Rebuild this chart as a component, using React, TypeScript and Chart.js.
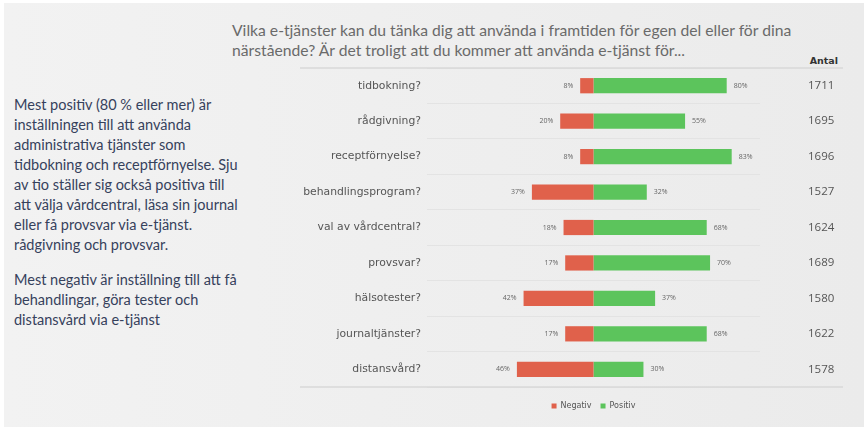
import React, { useEffect, useRef } from "react";
import { Chart, registerables } from "chart.js";

Chart.register(...registerables);

const categories = [
  "tidbokning?",
  "rådgivning?",
  "receptförnyelse?",
  "behandlingsprogram?",
  "val av vårdcentral?",
  "provsvar?",
  "hälsotester?",
  "journaltjänster?",
  "distansvård?",
];
const negativ = [8, 20, 8, 37, 18, 17, 42, 17, 46];
const positiv = [80, 55, 83, 32, 68, 70, 37, 68, 30];
const antal = [1711, 1695, 1696, 1527, 1624, 1689, 1580, 1622, 1578];
const seriesNames = ["Negativ", "Positiv"];

const titleLines = [
  "Vilka e-tjänster kan du tänka dig att använda i framtiden för egen del eller för dina",
  "närstående? Är det troligt att du kommer att använda e-tjänst för...",
];
const para1 = [
  "Mest positiv (80 % eller mer) är",
  "inställningen till att använda",
  "administrativa tjänster som",
  "tidbokning och receptförnyelse. Sju",
  "av tio ställer sig också positiva till",
  "att välja vårdcentral, läsa sin journal",
  "eller få provsvar via e-tjänst.",
  "rådgivning och provsvar.",
];
const para2 = [
  "Mest negativ är inställning till att få",
  "behandlingar, göra tester och",
  "distansvård via e-tjänst",
];

const RED = "#e0614b";
const GREEN = "#5cc45c";

const valueLabels = {
  id: "valueLabels",
  afterDatasetsDraw(chart: any) {
    const ctx = chart.ctx;
    ctx.save();
    ctx.font = "7px 'Open Sans'";
    ctx.fillStyle = "#666";
    ctx.textBaseline = "middle";
    chart.data.datasets.forEach((ds: any, di: number) => {
      const meta = chart.getDatasetMeta(di);
      meta.data.forEach((bar: any, i: number) => {
        const v = Math.abs(ds.data[i]);
        const txt = v + "%";
        if (ds.data[i] < 0) {
          ctx.textAlign = "right";
          ctx.fillText(txt, Math.min(bar.x, bar.base) - 7, bar.y);
        } else {
          ctx.textAlign = "left";
          ctx.fillText(txt, Math.max(bar.x, bar.base) + 7, bar.y);
        }
      });
    });
    ctx.restore();
  },
  afterDraw(chart: any) {
    const ctx = chart.ctx;
    const a = chart.chartArea;
    ctx.save();
    ctx.strokeStyle = "#d9d9d9";
    ctx.lineWidth = 1.5;
    [a.top, a.bottom].forEach((y: number) => {
      ctx.beginPath();
      ctx.moveTo(300, y);
      ctx.lineTo(843, y);
      ctx.stroke();
    });
    ctx.restore();
  },
};

export default function App() {
  const ref = useRef<HTMLCanvasElement>(null);
  useEffect(() => {
    if (!ref.current) return;
    const chart = new Chart(ref.current, {
      type: "bar",
      data: {
        labels: categories,
        datasets: [
          {
            label: seriesNames[0],
            data: negativ.map((v) => -v),
            backgroundColor: RED,
            barPercentage: 0.43,
            categoryPercentage: 1,
          },
          {
            label: seriesNames[1],
            data: positiv,
            backgroundColor: GREEN,
            barPercentage: 0.43,
            categoryPercentage: 1,
          },
        ],
      },
      options: {
        indexAxis: "y",
        responsive: false,
        animation: false,
        layout: { padding: { left: 280, right: 14, top: 68, bottom: 7 } },
        scales: {
          x: {
            stacked: true,
            min: -100,
            max: 100,
            display: true,
            grid: { display: false, drawTicks: false },
            border: { display: false },
            ticks: { display: false },
            afterFit: (s: any) => {
              s.height = 6;
            },
          },
          y: {
            stacked: true,
            grid: { color: "#e3e3e3", lineWidth: 1, drawTicks: false },
            border: { display: false },
            ticks: {
              color: "#555",
              padding: 6,
              font: { family: "'DejaVu Sans'", size: 10.8 },
            },
            afterFit: (s: any) => {
              s.width = 147;
              s.paddingTop = 0;
              s.paddingBottom = 0;
            },
          },
          y2: {
            type: "category",
            labels: antal.map(String),
            position: "right",
            offset: true,
            grid: { display: false, drawTicks: false },
            border: { display: false },
            ticks: {
              color: "#555",
              padding: 48,
              font: { family: "'Open Sans'", size: 11.5 },
            },
            afterFit: (s: any) => {
              s.width = 90;
              s.paddingTop = 0;
              s.paddingBottom = 0;
            },
          },
        },
        plugins: {
          legend: {
            position: "bottom",
            fullSize: false,
            labels: {
              boxWidth: 5,
              boxHeight: 5,
              padding: 9,
              color: "#555",
              font: { family: "'DejaVu Sans'", size: 8 },
            },
          },
          tooltip: { enabled: false },
        },
      },
      plugins: [valueLabels],
    } as any);
    return () => chart.destroy();
  }, []);

  return (
    <div
      style={{
        position: "fixed",
        left: 0,
        top: 0,
        width: 864,
        height: 427,
        background: "#fff",
        overflow: "hidden",
      }}
    >
      <div
        style={{
          position: "absolute",
          left: 4,
          top: 3,
          right: 0,
          bottom: 0,
          background: "linear-gradient(to right, #f2f2f2, #ebebeb)",
        }}
      />
      <div
        style={{
          position: "absolute",
          left: 232,
          top: 20,
          fontFamily: "Lato",
          fontSize: 15.7,
          lineHeight: "20px",
          color: "#6a6a6a",
          whiteSpace: "nowrap",
        }}
      >
        {titleLines.map((l, i) => (
          <div key={i}>{l}</div>
        ))}
      </div>
      <div
        style={{
          position: "absolute",
          right: 26,
          top: 54,
          fontFamily: "'DejaVu Sans'",
          fontWeight: "bold",
          fontSize: 9.5,
          lineHeight: "14px",
          color: "#333",
        }}
      >
        Antal
      </div>
      <div
        style={{
          position: "absolute",
          left: 14,
          top: 95,
          fontFamily: "Lato",
          fontSize: 14.5,
          lineHeight: "20px",
          color: "#36415c",
          whiteSpace: "nowrap",
        }}
      >
        {para1.map((l, i) => (
          <div key={i}>{l}</div>
        ))}
        <div style={{ height: 15 }} />
        {para2.map((l, i) => (
          <div key={"b" + i}>{l}</div>
        ))}
      </div>
      <canvas
        ref={ref}
        width={864}
        height={427}
        style={{ position: "absolute", left: 0, top: 0, width: 864, height: 427 }}
      />
    </div>
  );
}
